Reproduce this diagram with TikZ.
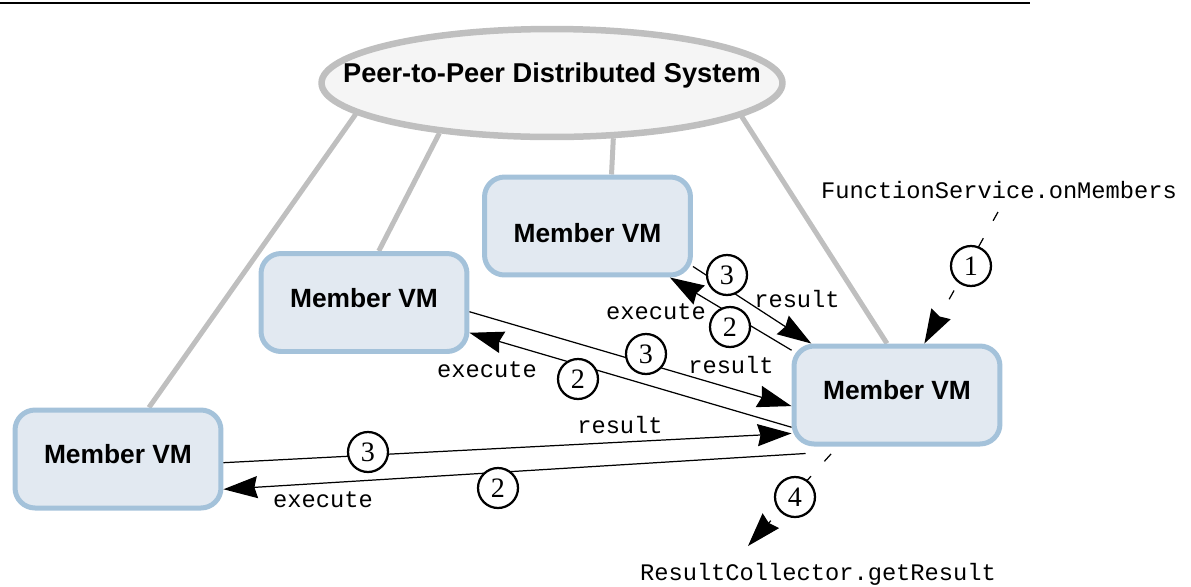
\documentclass[tikz,border=0pt]{standalone}
\usepackage{fontspec}
\setmainfont{Liberation Serif}
\setsansfont{Liberation Sans}
\setmonofont{Liberation Mono}
\usepackage{xcolor}
\usepackage{tikz}
\usetikzlibrary{arrows.meta,shapes.geometric,backgrounds}
\definecolor{vmfill}{HTML}{E2E9F1}
\definecolor{vmedge}{HTML}{A4C2DA}
\definecolor{sysfill}{HTML}{F5F5F5}
\definecolor{linkgray}{HTML}{BFBFBF}
\tikzset{
  vm/.style={draw=vmedge, fill=vmfill, line width=0.1cm, rounded corners=0.4cm, minimum width=4.12cm, minimum height=1.96cm, inner sep=0pt, text depth=0.2cm, font=\fontsize{15pt}{18pt}\sffamily\bfseries},
  sysell/.style={ellipse, draw=linkgray, fill=sysfill, line width=0.13cm, minimum width=9.22cm, minimum height=2.16cm, inner sep=0pt, font=\fontsize{15.5pt}{18pt}\sffamily\bfseries},
  link/.style={draw=linkgray, line width=0.1cm},
  msg/.style={-{Stealth[length=0.68cm, width=0.44cm, inset=0.06cm]}, line width=0.7pt},
  call/.style={msg, dash pattern=on 0.2cm off 0.4cm},
  num/.style={circle, draw, fill=white, line width=0.045cm, minimum size=0.8cm, inner sep=0pt, font=\fontsize{16pt}{18pt}\rmfamily},
  lbl/.style={inner sep=0pt, font=\fontsize{13.5pt}{16pt}\ttfamily},
}
\begin{document}
\begin{tikzpicture}[x=0.02cm, y=-0.02cm]
  \useasboundingbox (0,0) rectangle (1191,586);
  \draw[line width=0.03cm] (0,3) -- (1030,3);
  % system and members
  \node[sysell] (sys) at (552,83) {\raisebox{0.4cm}{\makebox[0pt]{Peer-to-Peer Distributed System}}};
  \node[vm, text height=0.86cm] (mA) at (587.5,226) {Member VM};
  \node[vm] (mB) at (364,302.5) {Member VM};
  \node[vm] (mC) at (118,459) {Member VM};
  \node[vm] (mD) at (897,395) {Member VM};
  \begin{scope}[on background layer]
    \draw[link] (sys.189.5) -- (mC.59.5);
    \draw[link] (sys.204.6) -- (mB.74);
    \draw[link] (sys.-42) -- (mA.65);
    \draw[link] (sys.-10.3) -- (mD.101);
  \end{scope}
  % execute / result messages
  \draw[msg] (mA.-21.6) -- (mD.149.7);
  \draw[msg] (mD.157) -- (mA.-32);
  \draw[msg] (mB.-5) -- (mD.186);
  \draw[msg] (mD.197) -- (mB.-16);
  \draw[msg] (mC.-2) -- (mD.200.5);
  \draw[msg] ([shift={(14,7)}]mD.south west) -- (mC.-16);
  \node[num] (r3a) at (727,275) {3};
  \node[num] (e2a) at (730,327) {2};
  \node[num] (r3b) at (646,354) {3};
  \node[num] (e2b) at (578,379) {2};
  \node[num] (r3c) at (368,452) {3};
  \node[num] (e2c) at (498,488) {2};
  \node[lbl] (resa) at (797,299) {result};
  \node[lbl] (exea) at (656,312) {execute};
  \node[lbl] (resb) at (731,365) {result};
  \node[lbl] (exeb) at (487,370) {execute};
  \node[lbl] (resc) at (620,425) {result};
  \node[lbl] (exec) at (323,500) {execute};
  % calls in and out
  \node[lbl] (onm) at (999,190) {FunctionService.onMembers};
  \node[lbl] (getr) at (818,574) {ResultCollector.getResult};
  \coordinate (callin) at (998,212);
  \coordinate (callout) at (748,546);
  \draw[call] (callin) -- (mD.62);
  \draw[call, dash phase=0.4cm] (mD.-139.8) -- (callout);
  \node[num] (s1) at (971,266) {1};
  \node[num] (s4) at (795,497) {4};
\end{tikzpicture}
\end{document}
